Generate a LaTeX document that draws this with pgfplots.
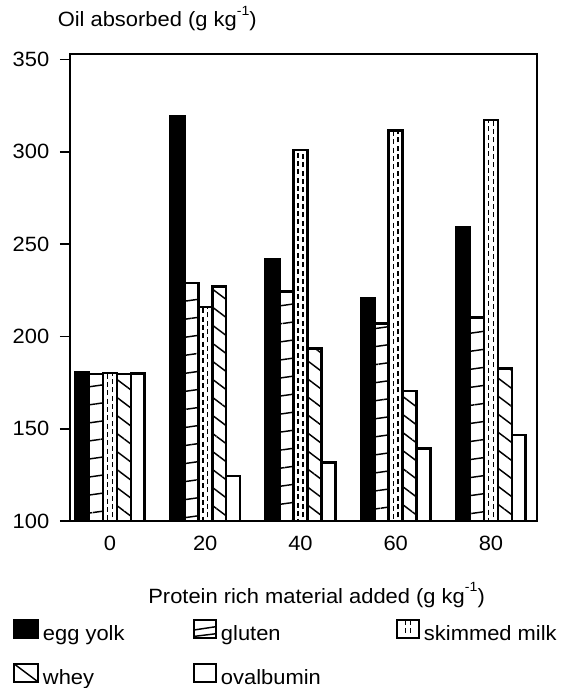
\documentclass[border=0pt]{standalone}
\usepackage{fontspec}
\setmainfont{Liberation Sans}[FakeStretch=1.06]
\usepackage{pgfplots}
\usepackage{pgfplotstable}
\pgfplotsset{compat=1.18}
\usetikzlibrary{patterns.meta}

\newcommand\chartfont{\fontsize{15.5}{18}\selectfont}
\newcommand\inv{\raisebox{0.55em}{\fontsize{10}{10}\selectfont -1}}

% oil absorbed (g/kg) for each protein-rich additive
\pgfplotstableread{
x   egg    gluten  skim   whey   oval
0   180.7  179.6   180.2  179.6  180.0
20  319.0  228.9   216.0  227.2  124.3
40  241.7  224.5   301.0  193.5  131.7
60  220.9  207.0   311.4  170.4  139.3
80  259.2  210.3   317.2  182.7  146.6
}\datatable

\begin{document}
\begin{tikzpicture}
\path[use as bounding box] (-52.5pt,-125.25pt) rectangle (372.75pt,390.75pt);
\begin{axis}[
  width=350.25pt, height=350.25pt, scale only axis,
  xmin=-8.4, xmax=89.66, ymin=100, ymax=353,
  ybar, bar width=2.92,
  xtick={0,20,40,60,80}, ytick={100,150,...,350},
  xtick style={draw=none},
  ytick pos=left, ytick align=outside, major tick length=7.5pt,
  line width=1.2pt,
  tick style={line width=1.2pt, black},
  tick label style={font=\chartfont},
  /pgf/number format/assume math mode=true,
  yticklabel style={inner sep=0pt, xshift=-7.5pt},
  xticklabel style={inner sep=0pt, anchor=north, yshift=-3pt},
  xlabel={Protein rich material added (g kg\inv)},
  ylabel={Oil absorbed (g kg\inv)},
  every axis x label/.style={at={(axis description cs:0.528,0)}, anchor=base, yshift=-61.5pt, inner sep=0pt, font=\chartfont},
  every axis y label/.style={at={(axis description cs:0,1)}, anchor=base west, xshift=-9.75pt, yshift=20.25pt, inner sep=0pt, font=\chartfont},
  legend columns=3,
  legend style={at={(axis description cs:0,0)}, anchor=north west,
    xshift=-42.75pt, yshift=-73.5pt, draw=none, fill=none,
    inner sep=0pt, outer sep=0pt, column sep=0pt, row sep=15.25pt,
    font=\chartfont, nodes={inner sep=0pt}},
]
\addplot[fill=black, draw=black, line width=2pt, bar shift=-5.84,
  legend image code/.code={\draw[fill=black, line width=1.5pt] (0pt,-3pt) rectangle (18pt,10.5pt);}]
  table[x=x, y=egg] {\datatable};
\addlegendentry{\hspace*{3pt}\makebox[112.5pt][l]{egg yolk}}

\addplot[draw=black, line width=2pt, bar shift=-2.92,
  pattern={Lines[angle=8, distance=13.4pt, line width=1.1pt]}, pattern color=black,
  legend image code/.code={
    \draw[fill=white, line width=1.5pt] (0pt,-3pt) rectangle (16.5pt,10.5pt);
    \draw[line width=1.1pt] (0pt,-1.8pt) -- (16.5pt,0.2pt);
    \draw[line width=1.1pt] (0pt,3pt) -- (16.5pt,5.5pt);}]
  table[x=x, y=gluten] {\datatable};
\addlegendentry{\hspace*{3pt}\makebox[131.25pt][l]{gluten}}

\addplot[fill=white, draw=black, line width=2pt, bar shift=0,
  legend image code/.code={
    \draw[fill=white, line width=1.5pt] (0pt,-3pt) rectangle (16.5pt,10.5pt);
    \draw[line width=1pt, dash pattern=on 3.75pt off 2.5pt] (6.3pt,10.5pt) -- (6.3pt,1pt);
    \draw[line width=1pt, dash pattern=on 3.75pt off 2.5pt] (10.2pt,10.5pt) -- (10.2pt,1pt);}]
  table[x=x, y=skim] {\datatable};
\addlegendentry{\hspace*{3pt}skimmed milk}
% dashed inner lines of the skimmed milk bars
\addplot[forget plot, fill=none, draw=black, line width=1pt,
  dash pattern=on 3.75pt off 2.5pt, bar width=1.0, bar shift=0]
  table[x=x, y=skim] {\datatable};

\addplot[draw=black, line width=2pt, bar shift=2.92,
  pattern={Lines[angle=-37, distance=10.8pt, line width=1.1pt]}, pattern color=black,
  legend image code/.code={
    \draw[fill=white, line width=1.5pt] (0pt,-3pt) rectangle (18pt,10.5pt);
    \draw[line width=1.1pt] (0pt,10.5pt) -- (18pt,-3pt);}]
  table[x=x, y=whey] {\datatable};
\addlegendentry{\hspace*{3pt}\makebox[112.5pt][l]{whey}}

\addplot[fill=white, draw=black, line width=2pt, bar shift=5.84,
  legend image code/.code={\draw[fill=white, line width=1.5pt] (0pt,-3pt) rectangle (16.5pt,10.5pt);}]
  table[x=x, y=oval] {\datatable};
\addlegendentry{\hspace*{3pt}\makebox[131.25pt][l]{ovalbumin}}
\end{axis}
\end{tikzpicture}
\end{document}
